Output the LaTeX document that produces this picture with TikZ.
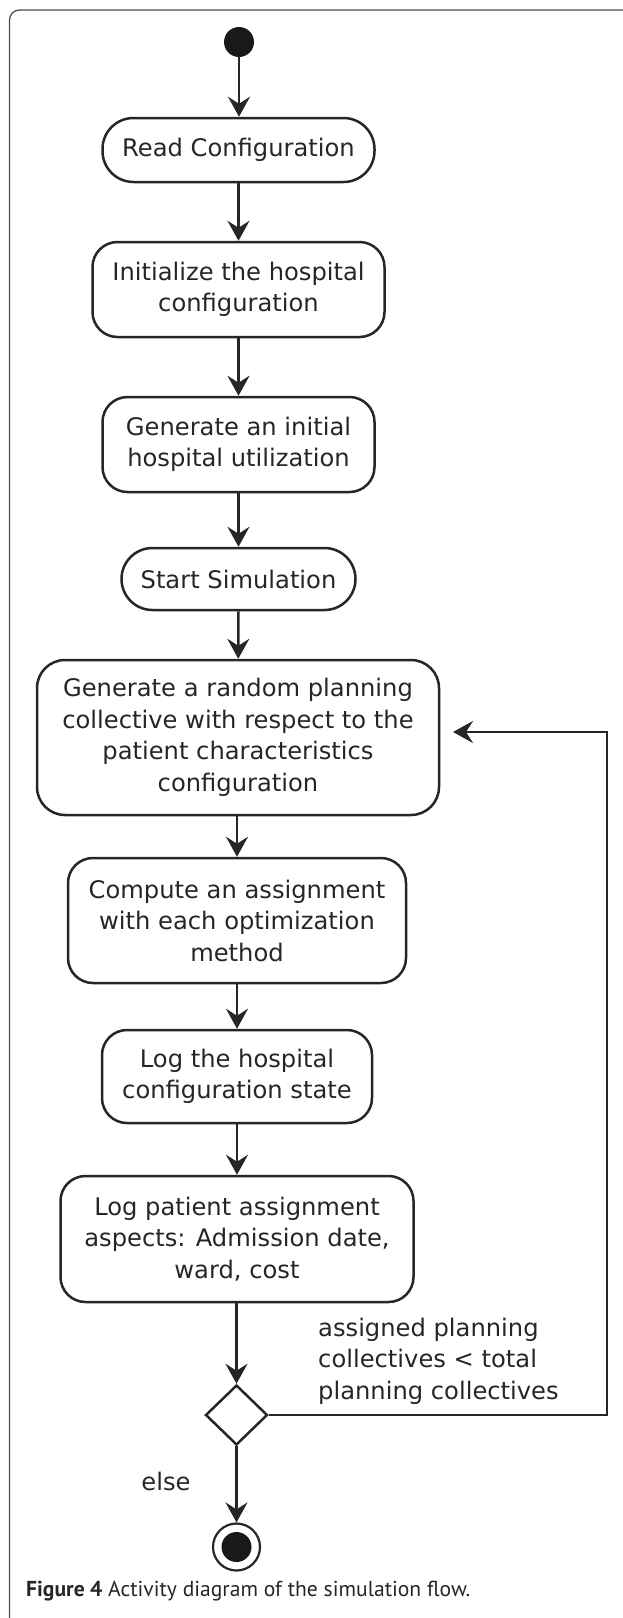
\documentclass[tikz,border=0pt]{standalone}
\usepackage{fontspec}
\setmainfont{DejaVu Sans}
\newfontfamily\capfont{PT Sans}
\usetikzlibrary{arrows.meta,shapes.geometric,calc}
\begin{document}
\begin{tikzpicture}[x=1pt,y=-1pt,
  every node/.style={font=\fontsize{24.2}{31.5}\selectfont, text=black!85},
  act/.style={draw=black!85, line width=2.5pt, rounded corners=25pt, align=center, inner sep=0pt, fill=white},
  pill/.style={act, rounded corners=31pt},
  flow/.style={draw=black!85, line width=2.5pt, -{Stealth[length=20pt,width=22pt,inset=7pt]}},
  back/.style={draw=black!85, line width=2.2pt, -{Stealth[length=20pt,width=22pt,inset=7pt]}},
  lbl/.style={inner sep=0pt, align=left}]
\useasboundingbox (0,0) rectangle (623,1618);
% frame
\draw[black!70, line width=1.3pt, rounded corners=10pt] (9.5,1618) -- (9.5,10) -- (623,10);
% nodes
\node[circle, fill=black!90, minimum size=30pt, inner sep=0pt] (start) at (239,42) {};
\node[pill, minimum width=272pt, minimum height=64pt] (read) at (238.5,150) {Read Configuration};
\node[act, minimum width=292pt, minimum height=95pt] (init) at (238.5,289.5) {Initialize the hospital\\configuration};
\node[act, minimum width=272pt, minimum height=95pt] (gen) at (238.5,444.5) {Generate an initial\\hospital utilization};
\node[pill, minimum width=234pt, minimum height=62pt] (sim) at (238.5,579) {Start Simulation};
\node[act, minimum width=402pt, minimum height=155pt, rounded corners=28pt] (rand) at (238,737.5) {Generate a random planning\\collective with respect to the\\patient characteristics\\configuration};
\node[act, minimum width=338pt, minimum height=125pt] (comp) at (237,920.5) {Compute an assignment\\with each optimization\\method};
\node[act, minimum width=270pt, minimum height=93pt] (logh) at (237,1076.5) {Log the hospital\\configuration state};
\node[act, minimum width=353pt, minimum height=126pt] (logp) at (237,1239) {Log patient assignment\\aspects: Admission date,\\ward, cost};
\node[diamond, draw=black!85, line width=2.5pt, minimum width=62pt, minimum height=60pt, inner sep=0pt, fill=white] (dec) at (236.5,1415) {};
\node[circle, draw=black!85, line width=2.2pt, minimum size=47pt, inner sep=0pt] (end) at (236.5,1547) {};
\node[circle, fill=black!90, minimum size=30pt, inner sep=0pt] (endin) at (end.center) {};
% labels
\node[lbl, anchor=west] (guard) at (318,1361) {assigned planning\\collectives < total\\planning collectives};
\node[lbl] (else) at (166,1481) {else};
\node[lbl, anchor=base west, font=\capfont\fontsize{21.6}{24}\selectfont] (cap) at (26,1596) {\textbf{Figure 4} Activity diagram of the simulation flow.};
% connectors
\draw[flow] (start) -- (start |- read.north);
\draw[flow] (read) -- (init);
\draw[flow] (init) -- (gen);
\draw[flow] (gen) -- (sim);
\draw[flow] (sim) -- (rand);
\draw[flow] (rand.south -| comp.north) -- (comp);
\draw[flow] (comp) -- (logh);
\draw[flow] (logh) -- (logp);
\draw[flow] (logp.south -| dec.north) -- (dec);
\draw[flow] (dec) -- (end);
\coordinate (rail) at (607,732);
\coordinate (backin) at (453,732);
\draw[back] (dec.east) -| (rail) -- (backin);
\end{tikzpicture}
\end{document}
